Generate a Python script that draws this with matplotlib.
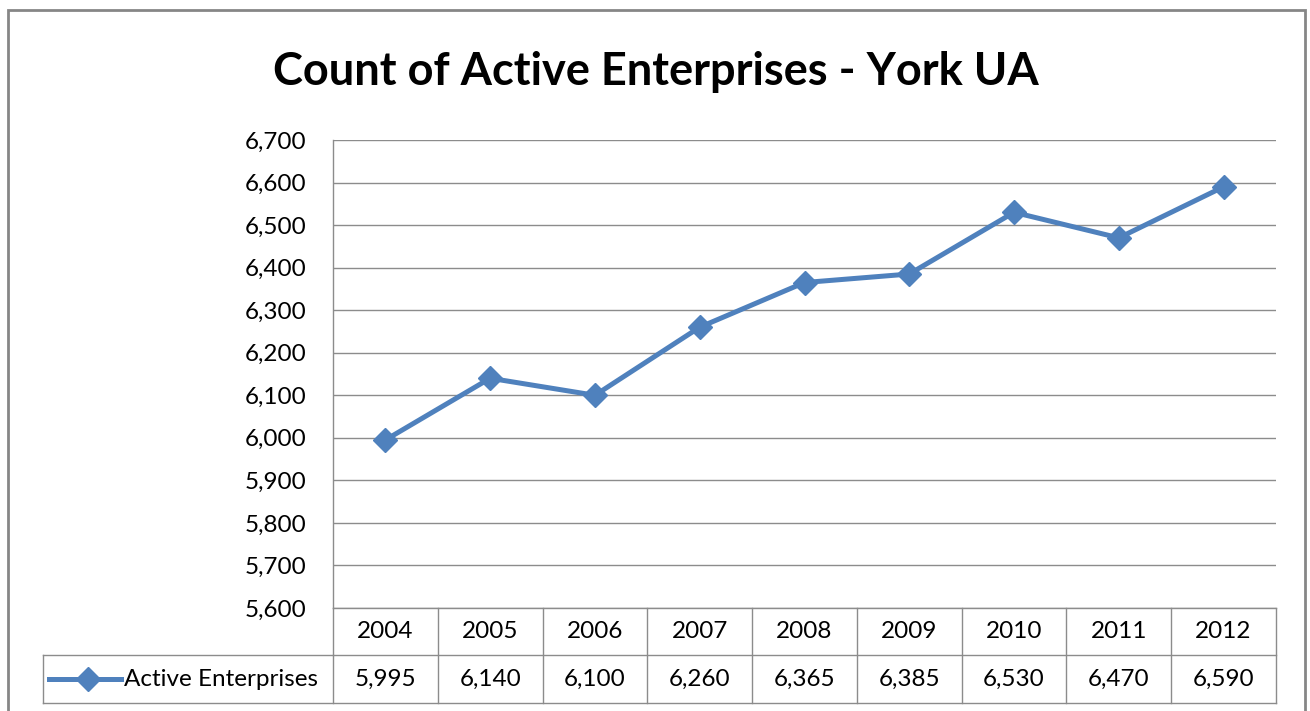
import matplotlib
matplotlib.use("Agg")
import matplotlib.pyplot as plt
from matplotlib.patches import Rectangle

years = ["2004", "2005", "2006", "2007", "2008", "2009", "2010", "2011", "2012"]
active = [5995, 6140, 6100, 6260, 6365, 6385, 6530, 6470, 6590]
series_name = "Active Enterprises"
title = "Count of Active Enterprises - York UA"

BLUE = "#4F81BD"
GRID = "#8C8C8C"
FONT = ["Lato", "DejaVu Sans"]

plt.rcParams["font.family"] = FONT

W, H = 1310, 711
fig = plt.figure(figsize=(W / 100, H / 100), dpi=100)

# plot area in pixels
px_l, px_r, px_t, px_b = 333, 1276, 140, 608
ax = fig.add_axes([px_l / W, (H - px_b) / H, (px_r - px_l) / W, (px_b - px_t) / H])

x = list(range(len(years)))
ax.plot(x, active, color=BLUE, lw=3.6, marker="D", ms=12.5, mfc=BLUE, mec=BLUE,
        solid_joinstyle="round", clip_on=False, zorder=3)

ax.set_xlim(-0.5, len(years) - 0.5)
ax.set_ylim(5600, 6700)
ax.set_yticks(range(5600, 6701, 100))
ax.set_yticklabels([f"{v:,}" for v in range(5600, 6701, 100)], fontsize=17.5)
ax.tick_params(axis="y", length=0, pad=19)
ax.set_xticks([])
ax.grid(axis="y", color=GRID, lw=1)
ax.set_axisbelow(True)
for s in ["top", "right", "bottom"]:
    ax.spines[s].set_visible(False)
ax.spines["left"].set_color(GRID)
ax.spines["left"].set_linewidth(1)

# data table below the plot
ph = px_b - px_t
row1 = -(655 - px_b) / ph
row2 = -(703 - px_b) / ph
btr = ax.get_xaxis_transform()
tbl_kw = dict(color=GRID, lw=1, clip_on=False, transform=btr)
for i in range(len(years) + 1):
    ax.plot([i - 0.5, i - 0.5], [0, row2], **tbl_kw)
ax.plot([-0.5, len(years) - 0.5], [0, 0], **tbl_kw)
ax.plot([-0.5, len(years) - 0.5], [row1, row1], **tbl_kw)

# legend cell spans to the left of the table
leg_l = 43 / W
ft = fig.transFigure
y1 = (H - 655) / H
y2 = (H - 703) / H
fig.add_artist(plt.Line2D([leg_l, px_l / W], [y1, y1], color=GRID, lw=1))
fig.add_artist(plt.Line2D([leg_l, px_r / W], [y2, y2], color=GRID, lw=1))
fig.add_artist(plt.Line2D([leg_l, leg_l], [y1, y2], color=GRID, lw=1))

for i, (yr, v) in enumerate(zip(years, active)):
    ax.text(i, (0 + row1) / 2, yr, transform=btr, ha="center", va="center", fontsize=17.5)
    ax.text(i, (row1 + row2) / 2, f"{v:,}", transform=btr, ha="center", va="center", fontsize=17.5)

ym = (y1 + y2) / 2
fig.add_artist(plt.Line2D([49 / W, 121 / W], [ym, ym], color=BLUE, lw=3.6))
fig.add_artist(plt.Line2D([88 / W], [ym], color=BLUE, marker="D", ms=12.5, lw=0))
fig.text(124 / W, ym, series_name, ha="left", va="center", fontsize=17.5)

# title
fig.text(656 / W, (H - 72) / H, title, ha="center", va="center",
         fontsize=32.5, fontweight="bold")

# chart border
fig.add_artist(Rectangle((8 / W, -0.05), (1305 - 8) / W, 1.05 - 10 / H,
                         transform=ft, fill=False, ec="#868686", lw=2, clip_on=False))

fig.savefig("out.png", dpi=100, facecolor="white")
